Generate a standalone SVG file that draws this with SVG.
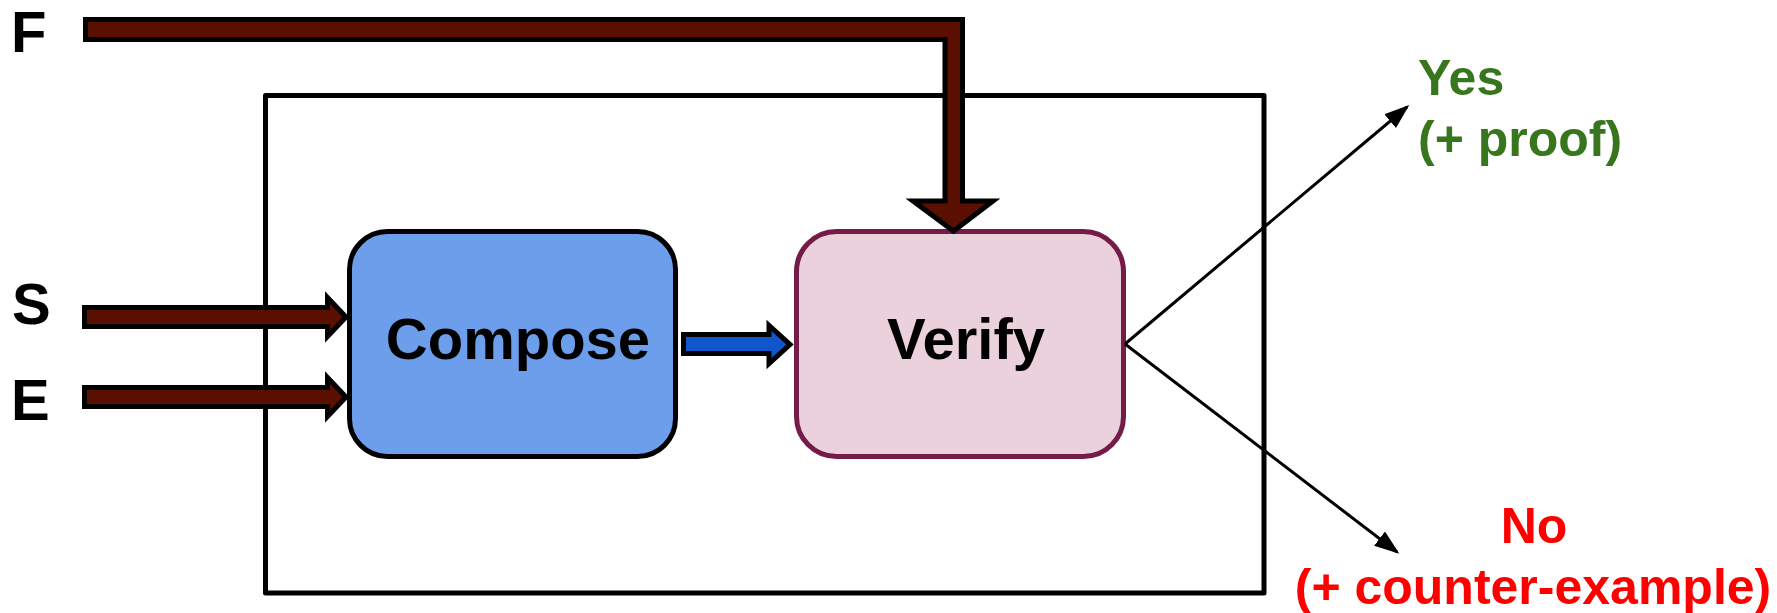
<svg xmlns="http://www.w3.org/2000/svg" width="1777" height="613" viewBox="0 0 1777 613">
  <style>
    .lbl { font-family: "Liberation Sans", Arial, sans-serif; font-weight: bold; }
    .io { font-size: 58px; fill: #000; }
    .node-text { font-size: 58px; fill: #000; text-anchor: middle; }
    .yes { font-size: 50px; fill: #38761d; }
    .no { font-size: 50px; fill: #ff0000; text-anchor: middle; }
    .fat { fill: #5b0f00; stroke: #000; stroke-width: 5; stroke-linejoin: miter; stroke-miterlimit: 10; }
    .fat-blue { fill: #1155cc; stroke: #000; stroke-width: 5; stroke-linejoin: miter; stroke-miterlimit: 10; }
    .thin { stroke: #000; stroke-width: 3; fill: none; }
  </style>
  <defs>
    <marker id="tip" markerUnits="userSpaceOnUse" markerWidth="30" markerHeight="22" refX="22" refY="9" orient="auto">
      <path d="M0,0 L25,9 L0,18 z" fill="#000"/>
    </marker>
  </defs>

  <rect width="1777" height="613" fill="#fff"/>

  <!-- enclosing system boundary -->
  <g id="system">
    <rect x="265.5" y="95.5" width="998.5" height="497.5" fill="none" stroke="#000" stroke-width="5" stroke-linejoin="round"/>
  </g>

  <!-- input labels -->
  <g id="input-F"><text class="lbl io" x="11" y="52">F</text></g>
  <g id="input-S"><text class="lbl io" x="12" y="324">S</text></g>
  <g id="input-E"><text class="lbl io" x="11" y="420">E</text></g>

  <!-- processing nodes -->
  <g id="compose">
    <rect x="349.5" y="231.5" width="326" height="225" rx="38" ry="38" fill="#6d9eeb" stroke="#000" stroke-width="5"/>
    <text class="lbl node-text" x="518" y="359">Compose</text>
  </g>
  <g id="verify">
    <rect x="796.5" y="231.5" width="327" height="225" rx="40" ry="40" fill="#ead1dc" stroke="#741b47" stroke-width="5"/>
    <text class="lbl node-text" x="966" y="359">Verify</text>
  </g>

  <!-- outcome labels -->
  <g id="out-yes">
    <text class="lbl yes" x="1418" y="95">Yes</text>
    <text class="lbl yes" x="1418" y="156">(+ proof)</text>
  </g>
  <g id="out-no">
    <text class="lbl no" x="1534" y="543">No</text>
    <text class="lbl no" x="1533" y="604">(+ counter-example)</text>
  </g>

  <!-- connectors -->
  <g id="connectors">
    <polygon class="fat" points="85.5,19.5 962.5,19.5 962.5,201 993,201 953.5,231 913,201 945,201 945,39.5 85.5,39.5"/>
    <polygon class="fat" points="84.5,307.5 327.5,307.5 327.5,297.5 346,317 327.5,336.5 327.5,326.5 84.5,326.5"/>
    <polygon class="fat" points="84.5,387.5 327.5,387.5 327.5,377.5 346,397 327.5,416.5 327.5,406.5 84.5,406.5"/>
    <polygon class="fat-blue" points="683.5,334.5 769,334.5 769,325.5 790,344.5 769,363.5 769,353.5 683.5,353.5"/>
    <line class="thin" x1="1125" y1="344" x2="1407" y2="107" marker-end="url(#tip)"/>
    <line class="thin" x1="1125" y1="344" x2="1397" y2="552" marker-end="url(#tip)"/>
  </g>
</svg>
